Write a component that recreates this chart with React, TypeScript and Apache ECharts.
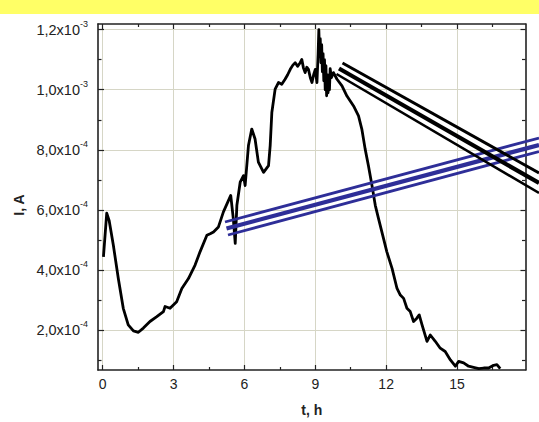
import React, { useEffect, useRef } from "react";
import * as echarts from "echarts";

// time, h
const timeH = [
  0.03, 0.17, 0.27, 0.45, 0.66, 0.87, 1.08, 1.3, 1.51, 1.72, 2.0, 2.29, 2.57, 2.64, 2.85, 3.13, 3.35, 3.63,
  3.91, 4.12, 4.41, 4.55, 4.69, 4.9, 5.11, 5.42, 5.53, 5.61, 5.68, 5.82, 5.96, 6.03, 6.17, 6.31, 6.45, 6.59,
  6.81, 7.02, 7.09, 7.16, 7.3, 7.44, 7.58, 7.72, 7.83, 7.94, 8.05, 8.15, 8.25, 8.36, 8.43, 8.5, 8.57, 8.64,
  8.71, 8.79, 8.86, 8.93, 9.0, 9.07, 9.12, 9.15, 9.18, 9.21, 9.24, 9.27, 9.3, 9.33, 9.36, 9.39, 9.42, 9.45,
  9.48, 9.51, 9.54, 9.57, 9.6, 9.63, 9.68, 9.77, 9.92, 10.13, 10.34, 10.62, 10.83, 10.97, 11.11, 11.25,
  11.4, 11.54, 11.68, 11.89, 12.03, 12.25, 12.46, 12.6, 12.74, 12.88, 13.02, 13.16, 13.3, 13.4, 13.52,
  13.73, 13.87, 14.08, 14.29, 14.5, 14.72, 14.93, 15.07, 15.28, 15.49, 15.7, 15.92, 16.13, 16.34, 16.55,
  16.69, 16.83,
];

// current, A
const currentA = [
  4.43e-4, 5.89e-4, 5.65e-4, 4.82e-4, 3.71e-4, 2.72e-4, 2.17e-4, 1.97e-4, 1.92e-4, 2.06e-4, 2.28e-4,
  2.44e-4, 2.61e-4, 2.78e-4, 2.72e-4, 2.94e-4, 3.38e-4, 3.71e-4, 4.16e-4, 4.6e-4, 5.15e-4, 5.2e-4,
  5.26e-4, 5.43e-4, 5.93e-4, 6.48e-4, 5.7e-4, 4.88e-4, 6.15e-4, 6.92e-4, 7.14e-4, 6.81e-4, 8.14e-4,
  8.69e-4, 8.36e-4, 7.59e-4, 7.25e-4, 7.47e-4, 8.14e-4, 9.24e-4, 1.002e-3, 1.024e-3, 1.018e-3, 1.035e-3,
  1.05e-3, 1.068e-3, 1.082e-3, 1.09e-3, 1.078e-3, 1.09e-3, 1.101e-3, 1.072e-3, 1.057e-3, 1.075e-3,
  1.068e-3, 1.04e-3, 1.024e-3, 1.05e-3, 1.068e-3, 1.024e-3, 1.12e-3, 1.2e-3, 1.12e-3, 1.17e-3, 1.09e-3,
  1.15e-3, 1.06e-3, 1.12e-3, 1.03e-3, 1.1e-3, 1.0e-3, 1.08e-3, 9.8e-4, 1.05e-3, 9.9e-4, 1.04e-3, 1.0e-3,
  1.07e-3, 1.04e-3, 1.057e-3, 1.035e-3, 1.013e-3, 9.79e-4, 9.46e-4, 9.13e-4, 8.69e-4, 8.03e-4, 7.47e-4,
  6.81e-4, 6.15e-4, 5.7e-4, 5.04e-4, 4.6e-4, 4.05e-4, 3.38e-4, 3.16e-4, 3.05e-4, 2.72e-4, 2.61e-4,
  2.28e-4, 2.39e-4, 2.5e-4, 2.17e-4, 1.62e-4, 1.83e-4, 1.62e-4, 1.39e-4, 1.28e-4, 1.0e-4, 0.79e-4,
  0.95e-4, 0.9e-4, 0.79e-4, 0.75e-4, 0.71e-4, 0.73e-4, 0.73e-4, 0.82e-4, 0.84e-4, 0.71e-4,
];

const xMajorTicks = [0, 3, 6, 9, 12, 15];
const xMinorTicks = [1.5, 4.5, 7.5, 10.5, 13.5, 16.5];
const yMajorTicks = [2e-4, 4e-4, 6e-4, 8e-4, 1.0e-3, 1.2e-3];
const yMinorTicks = [1e-4, 3e-4, 5e-4, 7e-4, 9e-4, 1.1e-3];

const X_MIN = -0.2;
const X_MAX = 17.9;
const Y_MIN = 0.664e-4;
const Y_MAX = 1.219e-3;

const FONT = "'Liberation Sans', Arial, sans-serif";
const AXIS_COLOR = "#222";
const GRID_COLOR = "#d6d6c6";

function fmtY(v: number): string {
  const exp = v >= 9.99e-4 ? -3 : -4;
  const m = v / Math.pow(10, exp);
  return `{b|${m.toFixed(1).replace(".", ",")}x10}{s|${exp}}`;
}

export default function App() {
  const ref = useRef<HTMLDivElement>(null);

  useEffect(() => {
    if (!ref.current) return;
    const chart = echarts.init(ref.current, undefined, { renderer: "svg" });
    const data = timeH.map((t, i) => [t, currentA[i]]);

    const tickStyle = { color: AXIS_COLOR, width: 1.2 };
    const mkX = (pos: string, ticks: number[], len: number, main: boolean) => ({
      type: "value",
      position: pos,
      min: X_MIN,
      max: X_MAX,
      axisLine: { show: main, onZero: false, lineStyle: { color: AXIS_COLOR, width: 1.6 } },
      axisTick: { show: true, inside: true, length: len, customValues: ticks, lineStyle: tickStyle },
      axisLabel: {
        show: main && pos === "bottom",
        customValues: ticks,
        fontFamily: FONT,
        fontSize: 14,
        color: "#222",
        margin: 7,
      },
      splitLine: { show: main && pos === "bottom", lineStyle: { color: GRID_COLOR, width: 1 } },
      name: main && pos === "bottom" ? "t, h" : "",
      nameLocation: "middle",
      nameGap: 33,
      nameTextStyle: { fontFamily: FONT, fontSize: 14, fontWeight: "bold", color: "#222" },
    });
    const mkY = (pos: string, ticks: number[], len: number, main: boolean) => ({
      type: "value",
      position: pos,
      min: Y_MIN,
      max: Y_MAX,
      axisLine: { show: main, onZero: false, lineStyle: { color: AXIS_COLOR, width: 1.6 } },
      axisTick: { show: true, inside: true, length: len, customValues: ticks, lineStyle: tickStyle },
      axisLabel: {
        show: main && pos === "left",
        customValues: ticks,
        margin: 10,
        formatter: fmtY,
        rich: {
          b: { fontFamily: FONT, fontSize: 14.5, color: "#222", lineHeight: 21 },
          s: { fontFamily: FONT, fontSize: 9, color: "#222", verticalAlign: "top" },
        },
      },
      splitLine: { show: main && pos === "left", lineStyle: { color: GRID_COLOR, width: 1 } },
    });

    const black = "#000";
    const blue = "#2e2e98";
    const ln = (x1: number, y1: number, x2: number, y2: number, stroke: string, w: number) => ({
      type: "line",
      z: 100,
      shape: { x1, y1, x2, y2 },
      style: { stroke, lineWidth: w, lineCap: "butt" },
    });

    chart.setOption({
      animation: false,
      backgroundColor: "#fff",
      grid: { left: 98, right: 13.5, top: 24, bottom: 50, containLabel: false },
      xAxis: [
        mkX("bottom", xMajorTicks, 5, true),
        mkX("bottom", xMinorTicks, 3, false),
        mkX("top", xMajorTicks, 5, true),
        mkX("top", xMinorTicks, 3, false),
      ],
      yAxis: [
        mkY("left", yMajorTicks, 6, true),
        mkY("left", yMinorTicks, 3.5, false),
        mkY("right", yMajorTicks, 5, true),
        mkY("right", yMinorTicks, 3.5, false),
      ],
      series: [
        {
          type: "line",
          data,
          xAxisIndex: 0,
          yAxisIndex: 0,
          showSymbol: false,
          symbol: "none",
          lineStyle: { color: "#000", width: 2.8, join: "round" },
          z: 5,
        },
      ],
      graphic: [
        { type: "rect", shape: { x: 0, y: 0, width: 539, height: 14 }, style: { fill: "#ffff66" }, z: 100 },
        {
          type: "text",
          x: 19,
          y: 205,
          rotation: Math.PI / 2,
          style: {
            text: "I, A",
            font: `bold 14px ${FONT}`,
            fill: "#222",
            textAlign: "center",
            textVerticalAlign: "middle",
          },
        },
        // blue triple line
        ln(225, 222, 539, 138, blue, 2.8),
        ln(226.5, 228.5, 539, 145, blue, 4.2),
        ln(228, 235, 539, 151.5, blue, 2.8),
        // black triple line
        ln(342.5, 63, 539, 173, black, 3),
        ln(339, 68.5, 539, 183, black, 4.2),
        ln(336.5, 74, 539, 193, black, 2.6),
      ],
    });
    return () => chart.dispose();
  }, []);

  return (
    <div
      style={{
        position: "fixed",
        left: 0,
        top: 0,
        width: 539,
        height: 422,
        background: "#fff",
        overflow: "hidden",
      }}
    >
      <div ref={ref} style={{ width: 539, height: 422 }} />
    </div>
  );
}
